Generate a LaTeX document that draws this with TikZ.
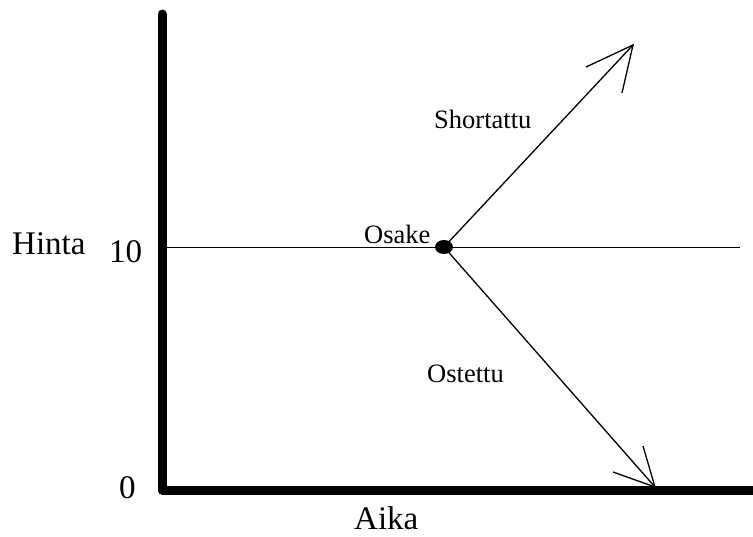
\documentclass[tikz,border=0pt]{standalone}
\usepackage{fontspec}
\setmainfont{Liberation Serif}
\usetikzlibrary{shapes.geometric}
\begin{document}
\begin{tikzpicture}[x=1pt,y=-1pt,
  axis/.style={line width=9pt,line cap=round,line join=round,black},
  thin/.style={line width=1.3pt,black},
  bigtxt/.style={anchor=base west,inner sep=0pt,text depth=0pt,font=\fontsize{33}{38}\selectfont},
  lbl/.style={anchor=base west,inner sep=0pt,text depth=0pt,font=\fontsize{26.5}{31}\selectfont}]
\useasboundingbox (0,0) rectangle (753,536);
% axes
\coordinate (ytop) at (162,14);
\coordinate (orig) at (162,490);
\coordinate (xend) at (760,490);
\draw[axis] (ytop) -- (orig) -- (xend);
% price line
\coordinate (pl) at (162,247.5);
\coordinate (pr) at (740,247.5);
\draw[thin] (pl) -- (pr);
% stock dot
\node[ellipse,fill=black,minimum width=18pt,minimum height=14pt,inner sep=0pt] (dot) at (444,247) {};
% up arrow
\coordinate (t1) at (633,45);
\coordinate (b1a) at (586,67);
\coordinate (b1b) at (622,93);
\draw[thin] (dot.center) -- (t1);
\draw[thin] (b1a) -- (t1) -- (b1b);
% down arrow
\coordinate (t2) at (655,487);
\coordinate (b2a) at (643,446);
\coordinate (b2b) at (613,472);
\draw[thin] (dot.center) -- (t2);
\draw[thin] (b2a) -- (t2) -- (b2b);
% labels
\node[bigtxt] (hinta) at (12,254) {Hinta};
\node[bigtxt] (ten) at (109,262) {10};
\node[bigtxt] (zero) at (119,498) {0};
\node[bigtxt] (aika) at (354,529) {Aika};
\node[lbl] (osake) at (364,243) {Osake};
\node[lbl] (short) at (434,128) {Shortattu};
\node[lbl] (ost) at (427,382) {Ostettu};
\end{tikzpicture}
\end{document}
